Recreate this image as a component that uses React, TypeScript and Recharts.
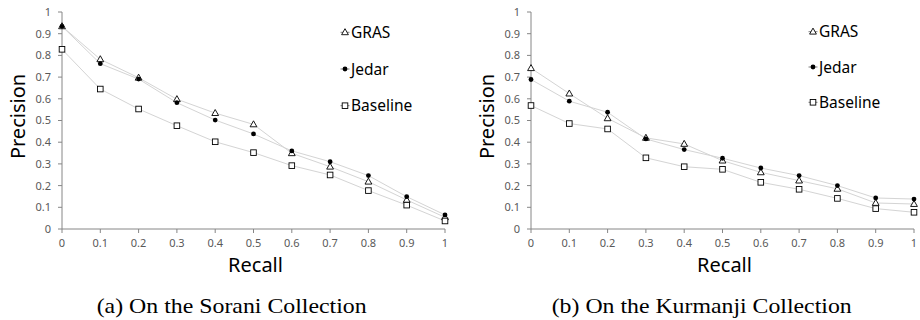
import { LineChart, Line, XAxis, YAxis } from "recharts";

// recall points (x axis)
const recall = [0, 0.1, 0.2, 0.3, 0.4, 0.5, 0.6, 0.7, 0.8, 0.9, 1];
const axisTicks = [0, 0.1, 0.2, 0.3, 0.4, 0.5, 0.6, 0.7, 0.8, 0.9, 1];

// (a) Sorani collection
const soraniGras = [0.934, 0.782, 0.697, 0.598, 0.534, 0.482, 0.349, 0.287, 0.218, 0.134, 0.054];
const soraniJedar = [0.934, 0.762, 0.691, 0.582, 0.502, 0.438, 0.36, 0.31, 0.246, 0.149, 0.065];
const soraniBaseline = [0.828, 0.645, 0.553, 0.476, 0.402, 0.352, 0.292, 0.249, 0.177, 0.11, 0.037];

// (b) Kurmanji collection
const kurmanjiGras = [0.741, 0.624, 0.51, 0.42, 0.392, 0.315, 0.261, 0.223, 0.185, 0.12, 0.115];
const kurmanjiJedar = [0.689, 0.589, 0.538, 0.415, 0.366, 0.326, 0.281, 0.246, 0.2, 0.143, 0.138];
const kurmanjiBaseline = [0.569, 0.486, 0.461, 0.328, 0.287, 0.275, 0.215, 0.183, 0.141, 0.094, 0.077];

const seriesNames = ["GRAS", "Jedar", "Baseline"];

const C_AXIS = "#868686";
const C_TICK = "#595959";
const C_LINE = "#d4d4d4";
const C_MARK = "#000000";
const SANS = "'Noto Sans', 'Open Sans', sans-serif";
const SERIF = "'Liberation Serif', 'Times New Roman', serif";

const W = 460;
const H = 320;

function Triangle({ cx, cy }: any) {
  if (cx == null || cy == null) return null;
  return (
    <path
      d={`M${cx},${cy - 3.6} L${cx + 3.4},${cy + 2.4} L${cx - 3.4},${cy + 2.4} Z`}
      fill="#fff"
      stroke={C_MARK}
      strokeWidth={0.9}
    />
  );
}

function Dot({ cx, cy }: any) {
  if (cx == null || cy == null) return null;
  return <circle cx={cx} cy={cy} r={2.4} fill={C_MARK} />;
}

function Square({ cx, cy }: any) {
  if (cx == null || cy == null) return null;
  return (
    <rect x={cx - 2.8} y={cy - 2.8} width={5.6} height={5.6} fill="#fff" stroke={C_MARK} strokeWidth={0.9} />
  );
}

const markers = [Triangle, Dot, Square];

interface PanelProps {
  left: number;
  gras: number[];
  jedar: number[];
  baseline: number[];
  marginLeft: number;
  marginRight: number;
  caption: string;
  captionX: number;
  captionWidth: number;
  legendX: number;
  legendY: number[];
}

function Panel(p: PanelProps) {
  const data = recall.map((r, i) => ({ recall: r, gras: p.gras[i], jedar: p.jedar[i], baseline: p.baseline[i] }));
  const yAxisW = 40;
  const xAxisH = 28;
  const margin = { top: 12, right: p.marginRight, left: p.marginLeft, bottom: 63 };
  const plotLeft = p.marginLeft + yAxisW;
  const plotRight = W - p.marginRight;
  const plotTop = margin.top;
  const plotBottom = H - margin.bottom - xAxisH;

  const tick = { fontSize: 11, fill: C_TICK, fontFamily: SANS };

  return (
    <div style={{ position: "absolute", left: p.left, top: 0, width: W, height: H }}>
      <LineChart width={W} height={H} data={data} margin={margin}>
        <XAxis
          dataKey="recall"
          type="number"
          domain={[0, 1]}
          ticks={axisTicks}
          tickFormatter={(v) => String(v)}
          stroke={C_AXIS}
          tick={tick}
          tickSize={4}
          tickMargin={6}
          height={xAxisH}
          interval={0}
        />
        <YAxis
          type="number"
          domain={[0, 1]}
          ticks={axisTicks}
          tickFormatter={(v) => String(v)}
          stroke={C_AXIS}
          tick={tick}
          tickSize={4}
          tickMargin={7}
          width={yAxisW}
          interval={0}
        />
        {["gras", "jedar", "baseline"].map((k, i) => {
          const M = markers[i];
          return (
            <Line
              key={k}
              type="linear"
              dataKey={k}
              stroke={C_LINE}
              strokeWidth={1}
              dot={(dp: any) => <M key={dp.index} cx={dp.cx} cy={dp.cy} />}
              activeDot={false}
              isAnimationActive={false}
            />
          );
        })}
      </LineChart>

      {/* axis titles, legend and caption */}
      <svg width={W} height={H} style={{ position: "absolute", left: 0, top: 0, pointerEvents: "none" }}>
        <text
          transform={`translate(${plotLeft - 37}, ${(plotTop + plotBottom) / 2 - 4}) rotate(-90)`}
          textAnchor="middle"
          fontFamily={SANS}
          fontSize={20}
          fill="#000"
        >
          Precision
        </text>
        <text
          x={(plotLeft + plotRight) / 2 + 2}
          y={271.5}
          textAnchor="middle"
          fontFamily={SANS}
          fontSize={20}
          fill="#000"
        >
          Recall
        </text>
        {seriesNames.map((name, i) => {
          const M = markers[i];
          const cy = p.legendY[i];
          return (
            <g key={name}>
              <line x1={p.legendX - 4.5} x2={p.legendX + 4.5} y1={cy} y2={cy} stroke="#7f7f7f" strokeWidth={1} />
              <M cx={p.legendX} cy={cy} />
              <text x={p.legendX + 6} y={cy + 5.6} fontFamily={SANS} fontSize={15.5} fill="#000">
                {name}
              </text>
            </g>
          );
        })}
        <text
          x={p.captionX}
          y={312.7}
          textAnchor="middle"
          fontFamily={SERIF}
          fontSize={21}
          fill="#000"
          textLength={p.captionWidth}
          lengthAdjust="spacingAndGlyphs"
        >
          {p.caption}
        </text>
      </svg>
    </div>
  );
}

export default function App() {
  return (
    <div style={{ position: "absolute", left: 0, top: 0, width: 920, height: 320, background: "#fff" }}>
      <Panel
        left={0}
        gras={soraniGras}
        jedar={soraniJedar}
        baseline={soraniBaseline}
        marginLeft={22}
        marginRight={15}
        caption="(a) On the Sorani Collection"
        captionX={231.7}
        captionWidth={270}
        legendX={345}
        legendY={[32.3, 69, 105.7]}
      />
      <Panel
        left={460}
        gras={kurmanjiGras}
        jedar={kurmanjiJedar}
        baseline={kurmanjiBaseline}
        marginLeft={31}
        marginRight={6}
        caption="(b) On the Kurmanji Collection"
        captionX={241.7}
        captionWidth={300}
        legendX={353}
        legendY={[31.7, 67, 102.3]}
      />
    </div>
  );
}
